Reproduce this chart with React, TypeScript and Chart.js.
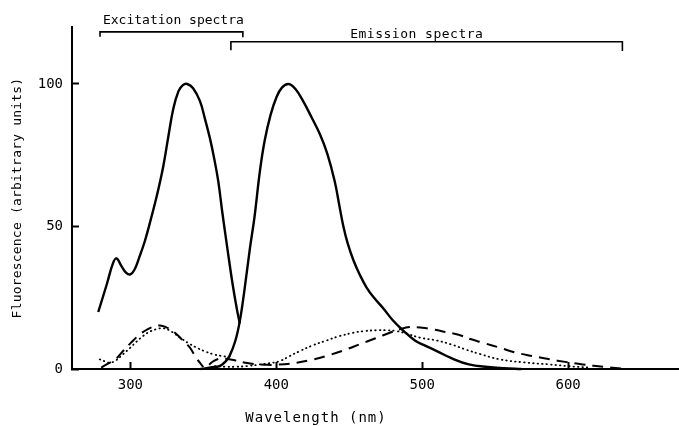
import React, { useEffect, useRef } from "react";
import { Chart, registerables } from "chart.js";

Chart.register(...registerables);

// Wavelength (nm), fluorescence (arbitrary units)
const X_TICKS = [300, 400, 500, 600];
const Y_TICKS = [0, 50, 100];

const SOLID_EXCITATION: [number, number][] = [
  [278, 20], [284, 30], [288, 37], [290.5, 38.8], [294, 36], [297, 33.8], [300, 33.2], [303, 35],
  [306, 39], [310, 45], [314, 52.5], [318, 60.5], [322.5, 71], [326, 81.5], [329.5, 91.5],
  [333, 97.5], [336, 99.6], [339, 100], [343, 98.5], [347.7, 94], [351, 88], [354.5, 81],
  [357, 75], [360.2, 66], [363, 55], [366.4, 42.6], [370, 30], [373, 21], [375, 16],
];

const SOLID_EMISSION: [number, number][] = [
  [348, 0], [352, 0.3], [356, 0.6], [361, 1], [365, 2.5], [368, 4.6], [372, 10], [375, 16.8],
  [378, 27], [382, 42.6], [385, 53], [388.8, 69.5], [392, 80], [396, 89], [400, 95.2],
  [404, 98.8], [408.5, 100], [413, 98.3], [418.4, 94], [424, 88.5], [430, 82.3], [435, 75.5],
  [440, 66], [443, 58], [446, 50], [449, 44], [453, 38], [457.3, 33], [462, 28.5],
  [467, 25], [473, 21.5], [480, 17], [487, 13.5], [495, 10], [502, 8.2], [510, 6.3],
  [520, 3.8], [532, 1.6], [545, 0.7], [556, 0.3], [568, 0],
];

const DASHED_EXCITATION: [number, number][] = [
  [280, 0.5], [285, 2], [290, 3.5], [295, 6.3], [300, 9], [306.6, 12.2], [312, 14], [317, 15],
  [321.4, 15.2], [326, 14.3], [331.7, 12.2], [336, 10], [340.8, 7.5], [345, 4], [350, 0.7],
];

const DASHED_EMISSION: [number, number][] = [
  [354, 1.5], [357, 2.8], [362, 3.7], [367, 3.5], [372, 3], [378, 2.3], [385, 1.7], [392, 1.5],
  [400, 1.5], [414, 2.2], [424, 3.2], [434.4, 4.6], [446, 6.5], [457.3, 8.7], [468, 10.8],
  [477.8, 12.7], [485, 14], [491.5, 14.7], [500, 14.5], [507.5, 13.9], [516, 13], [525, 12],
  [533, 10.5], [541.7, 9.2], [553, 7.5], [564.6, 5.7], [576, 4.5], [587.4, 3.4], [598, 2.5],
  [610, 1.6], [625, 0.7], [640, 0],
];

const DOTTED_EXCITATION: [number, number][] = [
  [279, 3.4], [283, 2.6], [286, 2.2], [290, 3], [295, 5.2], [300, 7.5], [304, 9.5],
  [308.8, 11.6], [314, 13.3], [318, 14], [322.5, 14.3], [327, 13.5], [330, 12.5], [334, 11],
  [340, 9], [345.4, 7.5], [351, 6.2], [356.8, 5.2], [362, 4.6], [368, 4.2],
];

const DOTTED_EMISSION: [number, number][] = [
  [358, 1], [365, 0.8], [372, 0.8], [380, 1], [388.8, 1.6], [395, 2], [402.5, 2.8], [409, 4.5],
  [416.2, 6.3], [425, 8.3], [434.4, 10], [443, 11.5], [452.7, 12.7], [460, 13.3], [468.7, 13.6],
  [475, 13.6], [482.4, 13.3], [490, 12.3], [498.4, 11], [510, 10], [520, 8.6], [530, 6.8],
  [540, 5.2], [553, 3.4], [570, 2.3], [587.4, 1.6], [600, 1], [615, 0.5],
];

const EXCITATION_BRACKET: [number, number][] = [
  [279.2, 116.6], [279.2, 118.3], [377.1, 118.3], [377.1, 116.4],
];
const EMISSION_BRACKET: [number, number][] = [
  [368.9, 111.8], [368.9, 114.8], [637.2, 114.8], [637.2, 111.6],
];

const TEXT_LABELS = [
  { text: "Excitation spectra", x: 329.5, y: 121.2, spacing: 0 },
  { text: "Emission spectra", x: 496.3, y: 116.2, spacing: 0.5 },
];

const X_TITLE = "Wavelength (nm)";
const Y_TITLE = "Fluorescence (arbitrary units)";

const INK = "#000";
const FONT = '"DejaVu Sans Mono", monospace';

const toPts = (arr: [number, number][]) => arr.map(([x, y]) => ({ x, y }));

export default function App() {
  const ref = useRef<HTMLCanvasElement | null>(null);

  useEffect(() => {
    if (!ref.current) return;

    const curve = (data: [number, number][], dash: number[], width: number, cap: CanvasLineCap = "butt") => ({
      data: toPts(data),
      borderColor: INK,
      borderWidth: width,
      borderDash: dash,
      borderCapStyle: cap,
      borderJoinStyle: "round",
      pointRadius: 0,
      fill: false,
      tension: 0.4,
      clip: false as any,
    });
    const bracket = (data: [number, number][]) => ({
      data: toPts(data),
      borderColor: INK,
      borderWidth: 1.6,
      pointRadius: 0,
      fill: false,
      tension: 0,
      clip: false as any,
    });

    const textPlugin = {
      id: "texts",
      afterDraw(chart: any) {
        const ctx = chart.ctx as CanvasRenderingContext2D;
        const xs = chart.scales.x;
        const ys = chart.scales.y;
        ctx.save();
        ctx.fillStyle = INK;
        ctx.textAlign = "center";
        ctx.textBaseline = "alphabetic";
        ctx.font = `13px ${FONT}`;
        for (const t of TEXT_LABELS) {
          (ctx as any).letterSpacing = `${t.spacing}px`;
          ctx.fillText(t.text, xs.getPixelForValue(t.x), ys.getPixelForValue(t.y));
        }
        // x-axis title
        ctx.font = `14px ${FONT}`;
        (ctx as any).letterSpacing = "1px";
        ctx.fillText(X_TITLE, 316, 422);
        // y-axis title
        ctx.font = `13px ${FONT}`;
        (ctx as any).letterSpacing = "0.2px";
        ctx.translate(21, (chart.chartArea.top + chart.chartArea.bottom) / 2);
        ctx.rotate(-Math.PI / 2);
        ctx.fillText(Y_TITLE, 0, 0);
        ctx.restore();
      },
    };

    const chart = new Chart(ref.current, {
      type: "line",
      data: {
        datasets: [
          curve(SOLID_EXCITATION, [], 2.4),
          curve(SOLID_EMISSION, [], 2.4),
          curve(DASHED_EXCITATION, [11, 7], 2.0),
          curve(DASHED_EMISSION, [11, 7], 2.0),
          curve(DOTTED_EXCITATION, [0.5, 4], 1.8, "round"),
          curve(DOTTED_EMISSION, [0.5, 4], 1.8, "round"),
          bracket(EXCITATION_BRACKET),
          bracket(EMISSION_BRACKET),
        ] as any,
      },
      options: {
        responsive: false,
        animation: false,
        devicePixelRatio: 1,
        layout: { padding: { top: 27, right: 0, bottom: 0, left: 0 } },
        plugins: {
          legend: { display: false },
          tooltip: { enabled: false },
        },
        scales: {
          x: {
            type: "linear",
            min: 260,
            max: 676,
            afterBuildTicks: (s: any) => {
              s.ticks = X_TICKS.map((v) => ({ value: v }));
            },
            afterFit: (s: any) => {
              s.height = 57;
            },
            ticks: {
              color: INK,
              font: { family: FONT, size: 14 },
              padding: 15,
              maxRotation: 0,
              autoSkip: false,
            },
            grid: {
              drawOnChartArea: false,
              drawTicks: true,
              tickLength: -7,
              tickWidth: 2,
              tickColor: INK,
            },
            border: { display: true, color: INK, width: 2 },
          },
          y: {
            type: "linear",
            min: 0,
            max: 120,
            afterBuildTicks: (s: any) => {
              s.ticks = Y_TICKS.map((v) => ({ value: v }));
            },
            afterFit: (s: any) => {
              s.width = 72;
            },
            ticks: {
              color: INK,
              font: { family: FONT, size: 14 },
              padding: 16,
              autoSkip: false,
            },
            grid: {
              drawOnChartArea: false,
              drawTicks: true,
              tickLength: -7,
              tickWidth: 2,
              tickColor: INK,
            },
            border: { display: true, color: INK, width: 2 },
          },
        },
      } as any,
      plugins: [textPlugin],
    });

    return () => chart.destroy();
  }, []);

  return (
    <div style={{ position: "fixed", left: 0, top: 0, width: 679, height: 426, background: "#fff" }}>
      <canvas ref={ref} width={679} height={426} style={{ display: "block", width: 679, height: 426 }} />
    </div>
  );
}
